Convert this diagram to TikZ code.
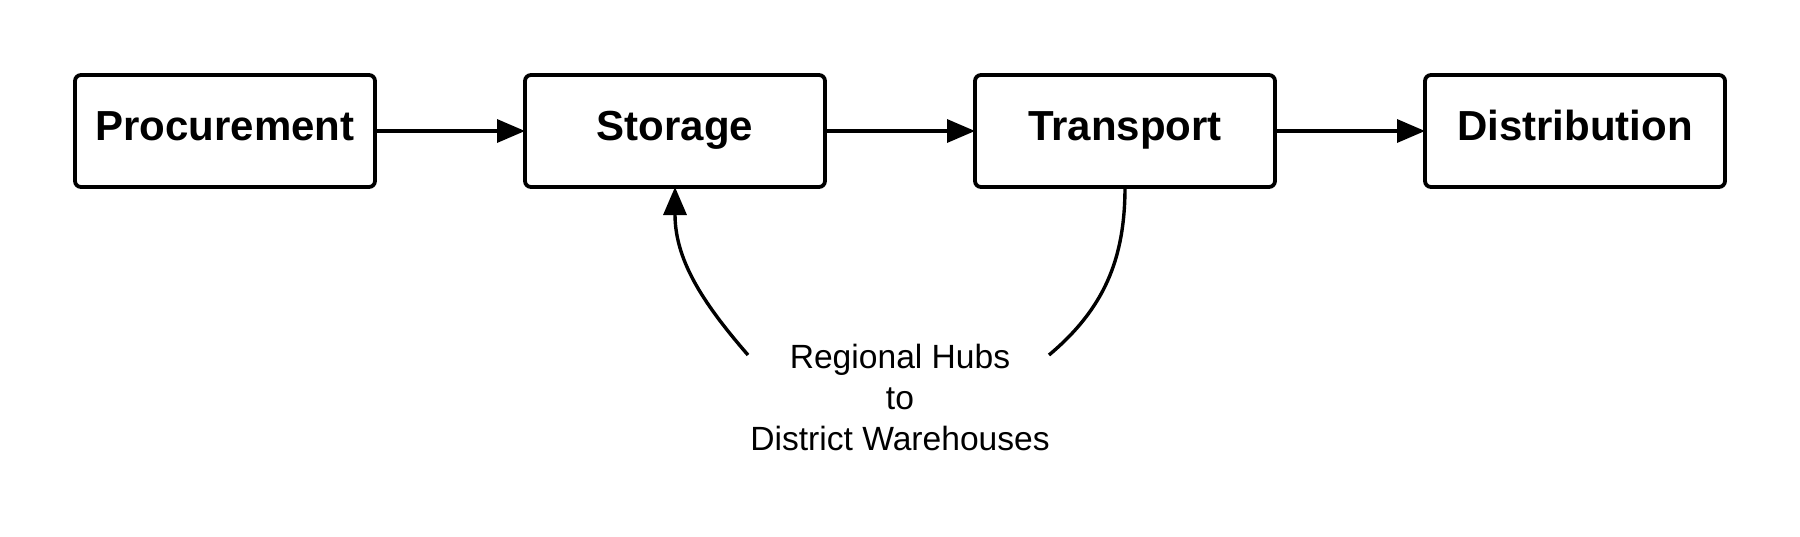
\documentclass[tikz,border=0pt]{standalone}
\usepackage{fontspec}
\setmainfont{Liberation Sans}
\usetikzlibrary{arrows.meta, positioning}

\tikzset{
  stagebox/.style={draw, line width=1.9pt, rounded corners=3pt, minimum width=150pt,
    minimum height=56pt, inner sep=0pt, outer sep=0pt, text height=15pt, text depth=6pt,
    font=\fontsize{21}{25}\selectfont\bfseries},
  flow/.style={line width=1.7pt, -{Triangle[length=14pt, width=11.5pt]}},
  loopline/.style={line width=1.7pt}
}

\begin{document}
\begin{tikzpicture}[x=0.5pt, y=-0.5pt, node distance=75pt]
\useasboundingbox (0,0) rectangle (1800,536);
% Stages
\node[stagebox] (procurement) at (225,131) {Procurement};
\node[stagebox, right=of procurement] (storage) {Storage};
\node[stagebox, right=of storage] (transport) {Transport};
\node[stagebox, right=of transport] (distribution) {Distribution};
% Main flow
\draw[flow] (procurement) -- (storage);
\draw[flow] (storage) -- (transport);
\draw[flow] (transport) -- (distribution);
% Return loop
\node[anchor=north, align=center, inner sep=0pt, font=\fontsize{16.8}{20.5}\selectfont] (hubs) at (900,344) {Regional Hubs\\to\\District Warehouses};
\coordinate (hubOut) at (1049,355);
\coordinate (hubIn) at (748,355);
\draw[loopline] (transport.south) to[out=-90, in=40] (hubOut);
\draw[flow] (hubIn) to[out=131, in=-90] (storage.south);
\end{tikzpicture}
\end{document}
